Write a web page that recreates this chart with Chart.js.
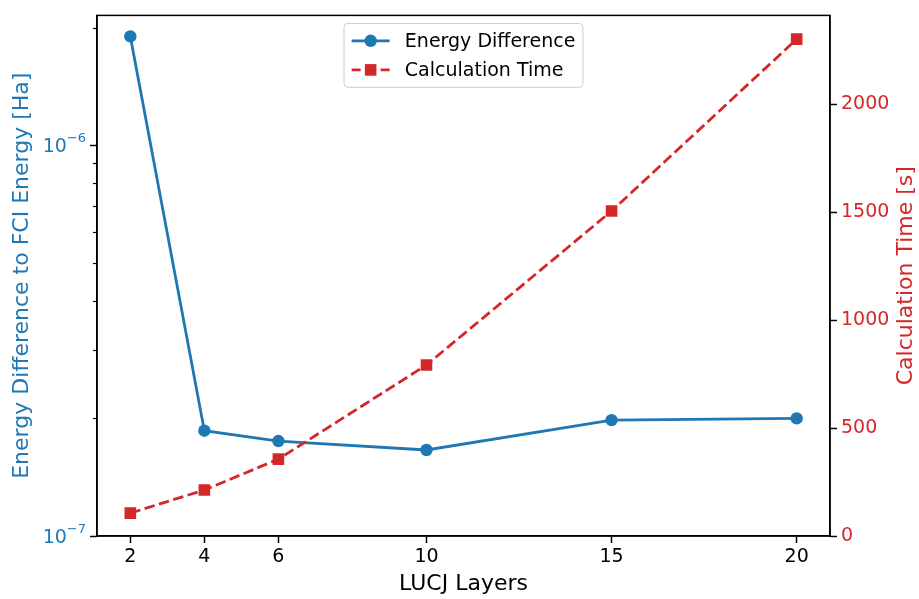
<!DOCTYPE html>
<html>
<head>
<meta charset="utf-8">
<script src="https://cdn.jsdelivr.net/npm/chart.js@4.4.1/dist/chart.umd.min.js"></script>
<style>
  html, body { margin: 0; padding: 0; background: #fff; }
  canvas { display: block; }
</style>
</head>
<body>
<canvas id="myChart" width="919" height="599"></canvas>
<script>
// data
const layers = [2, 4, 6, 10, 15, 20];
const energyDiff = [1.9e-6, 1.86e-7, 1.75e-7, 1.66e-7, 1.98e-7, 2.0e-7];
const calcTime = [106, 213, 356, 792, 1505, 2301];

const xTicks = [2, 4, 6, 10, 15, 20];
const timeTicks = [0, 500, 1000, 1500, 2000];
const energyTicks = [1e-7, 2e-7, 3e-7, 4e-7, 5e-7, 6e-7, 7e-7, 8e-7, 9e-7, 1e-6, 2e-6];

const BLUE = '#1f77b4';
const RED = '#d62728';
const FONT = 'DejaVu Sans';

const isDecade = v => Math.abs(Math.log10(v) - Math.round(Math.log10(v))) < 1e-6;

// minor ticks, 10^n labels, right axis title, top spine and the in-plot legend
const extras = {
  id: 'extras',
  afterDraw(chart) {
    const ctx = chart.ctx;
    const area = chart.chartArea;
    const y = chart.scales.y;

    ctx.save();
    ctx.strokeStyle = '#000';
    ctx.lineWidth = 1.2;
    energyTicks.filter(v => !isDecade(v)).forEach(v => {
      const py = Math.round(y.getPixelForValue(v)) + 0.5;
      ctx.beginPath();
      ctx.moveTo(area.left - 4, py);
      ctx.lineTo(area.left, py);
      ctx.stroke();
    });

    // decade labels with a raised exponent
    ctx.fillStyle = BLUE;
    ctx.textBaseline = 'alphabetic';
    ctx.textAlign = 'left';
    energyTicks.filter(isDecade).forEach(v => {
      const py = y.getPixelForValue(v);
      const exp = '\u2212' + Math.abs(Math.round(Math.log10(v)));
      ctx.font = '13px "' + FONT + '"';
      const ew = ctx.measureText(exp).width;
      ctx.font = '19px "' + FONT + '"';
      const bw = ctx.measureText('10').width;
      const right = area.left - 11;
      ctx.fillText('10', right - ew - bw, py + 7);
      ctx.font = '13px "' + FONT + '"';
      ctx.fillText(exp, right - ew, py - 3);
    });

    // right axis title, reading bottom to top
    ctx.font = '22px "' + FONT + '"';
    ctx.fillStyle = RED;
    ctx.textAlign = 'center';
    ctx.textBaseline = 'middle';
    ctx.translate(chart.width - 13, (area.top + area.bottom) / 2);
    ctx.rotate(-Math.PI / 2);
    ctx.fillText('Calculation Time [s]', 0, 0);
    ctx.setTransform(1, 0, 0, 1, 0, 0);

    ctx.strokeStyle = '#000';
    ctx.lineWidth = 1.5;
    ctx.strokeRect(area.left, area.top, area.right - area.left, area.bottom - area.top);

    // legend
    const fs = 19;
    ctx.font = fs + 'px "' + FONT + '"';
    const items = [chart.data.datasets[1], chart.data.datasets[0]];
    const textW = Math.max(...items.map(d => ctx.measureText(d.label).width));
    const pad = 0.4 * fs, handle = 2 * fs, gap = 0.8 * fs, rowH = 19.6, spacing = 0.5 * fs;
    const w = pad * 2 + handle + gap + textW;
    const h = pad * 2 + rowH * items.length + spacing * (items.length - 1);
    const x0 = (area.left + area.right) / 2 - w / 2;
    const y0 = area.top + 8;

    ctx.beginPath();
    ctx.roundRect(x0, y0, w, h, 4);
    ctx.fillStyle = 'rgba(255,255,255,0.8)';
    ctx.fill();
    ctx.strokeStyle = '#cccccc';
    ctx.lineWidth = 1;
    ctx.stroke();

    items.forEach((d, i) => {
      const cy = y0 + pad + rowH / 2 + i * (rowH + spacing);
      const hx = x0 + pad;
      ctx.strokeStyle = d.borderColor;
      ctx.lineWidth = d.borderWidth;
      ctx.beginPath();
      if (d.borderDash) {
        ctx.moveTo(hx, cy); ctx.lineTo(hx + 9, cy);
        ctx.moveTo(hx + handle - 9, cy); ctx.lineTo(hx + handle, cy);
      } else {
        ctx.moveTo(hx, cy); ctx.lineTo(hx + handle, cy);
      }
      ctx.stroke();
      ctx.fillStyle = d.backgroundColor;
      Chart.helpers.drawPoint(ctx, { pointStyle: d.pointStyle, radius: d.pointRadius, borderWidth: 0 }, hx + handle / 2, cy);
      ctx.fillStyle = '#000';
      ctx.textBaseline = 'middle';
      ctx.textAlign = 'left';
      ctx.fillText(d.label, hx + handle + gap, cy + 1);
    });
    ctx.restore();
  }
};

const data = {
  datasets: [{
    label: 'Calculation Time',
    data: layers.map((l, i) => ({ x: l, y: calcTime[i] })),
    yAxisID: 'y2',
    borderColor: RED,
    backgroundColor: RED,
    borderWidth: 2.8,
    borderDash: [10.5, 4.5],
    pointStyle: 'rect',
    pointRadius: 8.2,
    pointBorderWidth: 0,
    pointHoverRadius: 8.2,
    order: 1
  }, {
    label: 'Energy Difference',
    data: layers.map((l, i) => ({ x: l, y: energyDiff[i] })),
    yAxisID: 'y',
    borderColor: BLUE,
    backgroundColor: BLUE,
    borderWidth: 2.8,
    pointStyle: 'circle',
    pointRadius: 6.2,
    pointBorderWidth: 0,
    pointHoverRadius: 6.2,
    order: 2
  }]
};

const tickFont = { family: FONT, size: 19 };
const titleFont = { family: FONT, size: 22 };

const config = {
  type: 'line',
  data: data,
  options: {
    responsive: false,
    animation: false,
    layout: { padding: { top: 14, left: 0, right: 0, bottom: 0 } },
    plugins: {
      legend: { display: false },
      tooltip: { enabled: false }
    },
    scales: {
      x: {
        type: 'linear',
        position: 'bottom',
        min: 1.1,
        max: 20.9,
        afterBuildTicks: s => { s.ticks = xTicks.map(v => ({ value: v })); },
        afterFit: s => { s.height = 63; },
        ticks: { font: tickFont, color: '#000', padding: 3, maxRotation: 0 },
        grid: { drawOnChartArea: false, tickLength: 7, tickWidth: 1.5, tickColor: '#000' },
        border: { color: '#000', width: 1.5 },
        title: { display: true, text: 'LUCJ Layers', font: titleFont, color: '#000', padding: { top: 0, bottom: 2 } }
      },
      y: {
        type: 'logarithmic',
        position: 'left',
        min: 1e-7,
        max: 2.15e-6,
        afterBuildTicks: s => { s.ticks = energyTicks.map(v => ({ value: v, major: isDecade(v) })); },
        afterFit: s => { s.width = 97; },
        ticks: { font: tickFont, color: BLUE, padding: 4, autoSkip: false, callback: () => '' },
        grid: {
          drawOnChartArea: false,
          tickLength: 7,
          tickWidth: 1.5,
          tickColor: c => (c.tick && isDecade(c.tick.value)) ? '#000' : 'rgba(0,0,0,0)'
        },
        border: { color: '#000', width: 1.5 },
        title: { display: true, text: 'Energy Difference to FCI Energy [Ha]', font: titleFont, color: BLUE, padding: { top: 9, bottom: 0 } }
      },
      y2: {
        type: 'linear',
        position: 'right',
        min: 0,
        max: 2411,
        afterBuildTicks: s => { s.ticks = timeTicks.map(v => ({ value: v })); },
        afterFit: s => { s.width = 89; },
        ticks: { font: tickFont, color: RED, padding: 4, callback: v => String(v) },
        grid: { drawOnChartArea: false, tickLength: 7, tickWidth: 1.5, tickColor: '#000' },
        border: { color: '#000', width: 1.5 }
      }
    }
  },
  plugins: [extras]
};

const myChart = new Chart(document.getElementById('myChart'), config);
</script>
</body>
</html>
